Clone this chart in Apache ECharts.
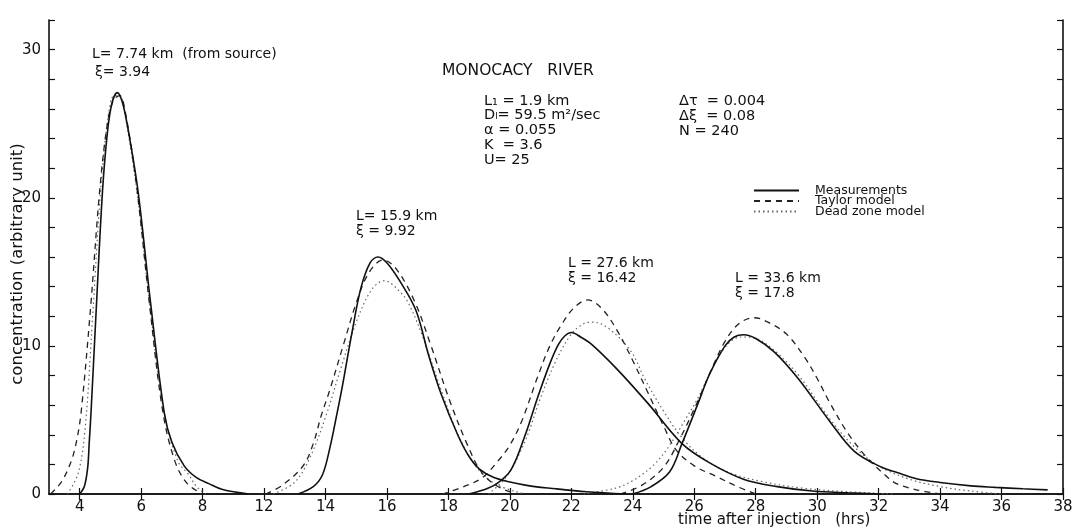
<!DOCTYPE html>
<html>
<head>
<meta charset="utf-8">
<script src="https://cdn.jsdelivr.net/npm/echarts@6/dist/echarts.min.js"></script>
<style>
  html, body { margin: 0; padding: 0; background: #fff; }
  #chart { width: 1086px; height: 532px; }
</style>
</head>
<body>
<div id="chart"></div>
<script>
// x values are in axis-slot units; the printed labels skip "10" (as in the original figure)
const xTickValues = [6, 8, 10, 12, 14, 16, 18, 20, 22, 24, 26, 28, 30, 32, 34, 36, 38];
const xTickLabels = ['4', '6', '8', '12', '14', '16', '18', '20', '22', '24', '26', '28', '30', '32', '34', '36', '38'];
const yLabelValues = [0, 10, 20, 30];

const seriesNames = ['Measurements', 'Taylor model', 'Dead zone model'];

// L = 7.74 km
const measured1 = [[6.0,0],[6.15,0.5],[6.26,1.8],[6.31,3.5],[6.37,5.6],[6.55,13.0],[6.74,20.4],[6.9,24.4],[7.05,26.4],[7.22,27.1],[7.38,26.5],[7.55,24.9],[7.9,20.4],[8.3,13.0],[8.75,5.5],[9.0,3.5],[9.4,1.9],[9.8,1.1],[10.2,0.7],[10.65,0.3],[11.5,0]];
const taylor1 = [[5.05,0],[5.4,0.8],[5.72,2.2],[5.9,3.6],[6.05,5.6],[6.35,12.5],[6.65,20.5],[6.9,25.0],[7.1,26.6],[7.3,26.9],[7.5,25.6],[7.85,20.8],[8.25,13.2],[8.7,5.6],[9.1,2.2],[9.5,0.7],[10.0,0]];
const deadZone1 = [[5.6,0],[5.95,1.4],[6.18,4.5],[6.42,12.0],[6.68,20.5],[6.92,25.4],[7.12,26.9],[7.3,26.9],[7.5,25.3],[7.9,19.8],[8.3,12.4],[8.75,5.4],[9.2,2.2],[9.55,1.3],[9.8,0.5],[10.1,0]];

// L = 15.9 km
const measured2 = [[13.1,0],[13.6,0.5],[13.9,1.3],[14.15,3.2],[14.35,5.2],[14.55,7.3],[14.86,10.9],[15.15,13.9],[15.45,15.6],[15.71,16.0],[16.0,15.6],[16.41,14.4],[16.94,12.4],[17.35,9.4],[17.77,6.7],[18.3,4.0],[18.65,2.6],[19.0,1.7],[19.5,1.1],[20.5,0.6],[21.5,0.35],[22.5,0.15],[23.8,0]];
const taylor2 = [[12.05,0],[12.6,0.6],[13.27,1.9],[13.6,3.4],[13.86,5.3],[14.12,6.9],[14.6,10.2],[15.0,12.9],[15.4,14.9],[15.87,15.8],[16.3,15.2],[16.9,13.0],[17.4,10.2],[18.05,6.25],[18.6,3.4],[19.1,1.4],[19.7,0.4],[20.3,0]];
const deadZone2 = [[12.3,0],[13.0,0.8],[13.5,2.5],[14.0,5.2],[14.5,8.5],[15.0,11.6],[15.5,13.8],[15.92,14.4],[16.4,13.7],[16.72,12.8],[17.2,10.4],[17.8,6.8],[18.4,3.6],[19.0,1.6],[19.6,0.6],[20.5,0]];

// L = 27.6 km
const measured3 = [[18.66,0],[19.1,0.25],[19.55,0.66],[20.04,1.65],[20.5,4.0],[20.9,6.5],[21.3,8.8],[21.58,10.1],[21.8,10.7],[22.0,10.9],[22.3,10.6],[22.66,10.1],[23.5,8.4],[24.5,6.1],[25.6,3.4],[26.5,2.1],[27.6,1.0],[28.7,0.5],[29.84,0.2],[31.0,0.08],[32.1,0]];
const taylor3 = [[17.8,0],[18.5,0.5],[19.1,1.1],[19.6,2.2],[20.0,3.3],[20.4,5.0],[20.9,7.9],[21.3,10.0],[21.7,11.5],[22.1,12.6],[22.53,13.1],[23.0,12.5],[23.5,11.0],[24.0,9.0],[24.5,6.8],[25.0,4.6],[25.4,3.0],[26.0,1.9],[26.7,1.2],[27.4,0.5],[28.0,0]];
const deadZone3 = [[19.3,0],[19.9,1.2],[20.5,3.6],[21.0,6.5],[21.5,9.0],[22.0,10.8],[22.4,11.5],[22.7,11.6],[23.2,11.2],[23.95,9.6],[24.38,7.8],[25.0,5.6],[25.6,3.8],[26.3,2.4],[27.2,1.4],[28.3,0.8],[29.5,0.4],[31.0,0.15],[32.5,0]];

// L = 33.6 km
const measured4 = [[24.0,0],[24.6,0.5],[25.2,1.5],[25.6,3.4],[26.1,6.0],[26.5,8.1],[27.0,10.0],[27.3,10.6],[27.61,10.75],[28.0,10.5],[28.6,9.6],[29.38,7.8],[30.43,4.85],[31.2,2.9],[32.1,1.8],[32.6,1.45],[33.2,1.05],[34.0,0.78],[35.0,0.55],[35.8,0.45],[36.7,0.35],[37.5,0.28]];
const taylor4 = [[23.6,0],[24.3,0.6],[25.0,1.8],[25.5,3.6],[26.1,6.2],[26.6,8.6],[27.0,10.3],[27.45,11.5],[27.95,11.9],[28.4,11.6],[29.0,10.8],[29.6,9.2],[30.0,7.8],[30.4,6.2],[31.0,4.1],[31.6,2.5],[32.2,1.3],[32.56,0.72],[33.2,0.3],[34.0,0]];
const deadZone4 = [[22.4,0],[23.44,0.4],[24.0,0.9],[24.7,2.0],[25.2,3.3],[25.7,5.0],[26.1,6.4],[26.5,8.1],[27.0,9.9],[27.5,10.6],[28.0,10.5],[28.6,9.7],[29.4,8.0],[30.4,5.1],[31.2,3.2],[32.0,1.9],[33.0,1.0],[34.0,0.5],[35.0,0.2],[36.0,0]];

const measured = [measured1, measured2, measured3, measured4];
const taylor = [taylor1, taylor2, taylor3, taylor4];
const deadZone = [deadZone1, deadZone2, deadZone3, deadZone4];

const FONT = 'DejaVu Sans';
const INK = '#111';

const chart = echarts.init(document.getElementById('chart'), null, { renderer: 'canvas' });

const lineStyles = [
  { color: '#111', width: 1.6, type: 'solid' },
  { color: '#222', width: 1.3, type: [6, 5] },
  { color: '#666', width: 1.2, type: [1.5, 3] },
];

function makeSeries(groups, idx) {
  return groups.map((data) => ({
    name: seriesNames[idx],
    type: 'line',
    data,
    symbol: 'none',
    smooth: 0.35,
    silent: true,
    lineStyle: lineStyles[idx],
    itemStyle: { color: lineStyles[idx].color },
    z: 3 - idx,
  }));
}

function txt(text, left, top, size) {
  return {
    type: 'text',
    left,
    top,
    style: { text, fontSize: size || 14, fontFamily: FONT, fill: INK, lineHeight: 14.7 },
  };
}

const axisLine = { show: true, lineStyle: { color: INK, width: 1.6 } };
const axisTick = { show: true, inside: true, length: 6, lineStyle: { color: INK, width: 1.2 } };

chart.setOption({
  backgroundColor: '#fff',
  animation: false,
  grid: { left: 49, right: 23, top: 20, bottom: 38, containLabel: false, outerBoundsMode: 'none' },
  legend: {
    data: seriesNames,
    orient: 'vertical',
    left: 748,
    top: 179,
    itemWidth: 45,
    itemHeight: 8,
    itemGap: -2.5,
    selectedMode: false,
    itemStyle: { opacity: 0 },
    textStyle: { fontFamily: FONT, fontSize: 12.5, color: INK, lineHeight: 10, padding: [0, 0, 0, 11] },
  },
  xAxis: [
    {
      type: 'value',
      min: 5,
      max: 38,
      axisLine,
      axisTick: { ...axisTick, customValues: xTickValues },
      splitLine: { show: false },
      axisLabel: {
        customValues: xTickValues,
        margin: 6,
        fontFamily: FONT,
        fontSize: 15,
        color: INK,
        formatter: (v) => xTickLabels[xTickValues.indexOf(v)] || '',
      },
    },
    {
      type: 'value',
      position: 'top',
      min: 5,
      max: 38,
      axisLine,
      axisTick: { ...axisTick, customValues: xTickValues },
      axisLabel: { show: false },
      splitLine: { show: false },
    },
  ],
  yAxis: [
    {
      type: 'value',
      min: 0,
      max: 32,
      interval: 2,
      axisLine,
      axisTick,
      splitLine: { show: false },
      axisLabel: {
        margin: 8,
        fontFamily: FONT,
        fontSize: 15,
        color: INK,
        formatter: (v) => (yLabelValues.indexOf(v) >= 0 ? String(v) : ''),
      },
    },
    {
      type: 'value',
      position: 'right',
      min: 0,
      max: 32,
      interval: 2,
      axisLine,
      axisTick,
      axisLabel: { show: false },
      splitLine: { show: false },
    },
  ],
  graphic: [
    {
      type: 'text',
      x: 18,
      y: 264,
      rotation: Math.PI / 2,
      style: {
        text: 'concentration (arbitrary unit)',
        fontSize: 16.5,
        fontFamily: FONT,
        fill: INK,
        align: 'center',
        verticalAlign: 'middle',
      },
    },
    txt('L= 7.74 km  (from source)', 92, 47),
    txt('ξ= 3.94', 95, 65),
    txt('MONOCACY   RIVER', 442, 63, 15.5),
    txt('L₁ = 1.9 km\nDₗ= 59.5 m²/sec\nα = 0.055\nK  = 3.6\nU= 25', 484, 93.5, 14.5),
    txt('Δτ  = 0.004\nΔξ  = 0.08\nN = 240', 679, 94, 14.5),
    txt('L= 15.9 km\nξ = 9.92', 356, 209),
    txt('L = 27.6 km\nξ = 16.42', 568, 256),
    txt('L = 33.6 km\nξ = 17.8', 735, 271),
    txt('time after injection   (hrs)', 678, 513, 15),
  ],
  series: [
    ...makeSeries(measured, 0),
    ...makeSeries(taylor, 1),
    ...makeSeries(deadZone, 2),
  ],
});
</script>
</body>
</html>
